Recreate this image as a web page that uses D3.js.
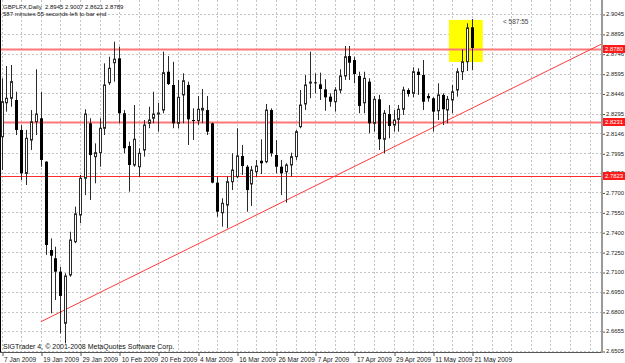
<!DOCTYPE html>
<html>
<head>
<meta charset="utf-8">
<script src="https://cdn.jsdelivr.net/npm/d3@7"></script>
<style>
    body { margin: 0; background: #fff; }
    #chart { width: 625px; height: 363px; }
    svg text { font-family: "Liberation Sans", Arial, sans-serif; }
</style>
</head>
<body>
<div id="chart"></div>
<script>
// GBPLFX daily bars, 7 Jan 2009 .. 21 May 2009 (index 0 .. 96)
const opens = [
    2.8120, 2.8376, 2.8410, 2.8397, 2.8171, 2.7844, 2.8095, 2.8233, 2.8259, 2.7932,
    2.7266, 2.7204, 2.7103, 2.6714, 2.7078, 2.7329, 2.7530, 2.7807, 2.8221, 2.7970,
    2.8000, 2.8184, 2.8527, 2.8678, 2.8711, 2.8297, 2.8050, 2.7907, 2.7894, 2.8020,
    2.8221, 2.8259, 2.8297, 2.8321, 2.8610, 2.8510, 2.8221, 2.8435, 2.8510, 2.8246,
    2.8241, 2.8321, 2.8321, 2.8221, 2.7774, 2.7547, 2.7605, 2.7781, 2.7819, 2.7975,
    2.7894, 2.7764, 2.7856, 2.7939, 2.7932, 2.8321, 2.7982, 2.7894, 2.7856, 2.7907,
    2.7970, 2.8196, 2.8367, 2.8530, 2.8530, 2.8515, 2.8477, 2.8422, 2.8384, 2.8472,
    2.8578, 2.8728, 2.8698, 2.8578, 2.8376, 2.8535, 2.8221, 2.8402, 2.8101, 2.8291,
    2.8208, 2.8251, 2.8327, 2.8472, 2.8447, 2.8610, 2.8585, 2.8427, 2.8410, 2.8316,
    2.8435, 2.8321, 2.8397, 2.8472, 2.8610, 2.8685, 2.8945
];
const highs = [
    2.8560, 2.8653, 2.8661, 2.8459, 2.8208, 2.8171, 2.8321, 2.8628, 2.8459, 2.7935,
    2.7354, 2.7291, 2.7140, 2.7091, 2.7404, 2.7593, 2.7832, 2.8327, 2.8259, 2.8070,
    2.8259, 2.8673, 2.8723, 2.8836, 2.8799, 2.8321, 2.8083, 2.8359, 2.8033, 2.8246,
    2.8346, 2.8459, 2.8376, 2.8761, 2.8728, 2.8685, 2.8548, 2.8598, 2.8535, 2.8334,
    2.8427, 2.8480, 2.8427, 2.8226, 2.7819, 2.7656, 2.7819, 2.7995, 2.8184, 2.8058,
    2.7907, 2.7899, 2.7945, 2.8101, 2.8367, 2.8334, 2.8095, 2.7945, 2.7920, 2.8000,
    2.8171, 2.8472, 2.8585, 2.8761, 2.8598, 2.8603, 2.8553, 2.8447, 2.8493, 2.8628,
    2.8804, 2.8804, 2.8723, 2.8610, 2.8610, 2.8560, 2.8427, 2.8435, 2.8321, 2.8359,
    2.8321, 2.8359, 2.8497, 2.8485, 2.8643, 2.8636, 2.8698, 2.8447, 2.8417, 2.8523,
    2.8447, 2.8427, 2.8510, 2.8636, 2.8779, 2.8975, 2.9007
];
const lows = [
    2.7869, 2.8309, 2.8346, 2.8133, 2.7794, 2.7756, 2.8020, 2.8133, 2.7894, 2.7229,
    2.6789, 2.6889, 2.6638, 2.6563, 2.7065, 2.7317, 2.7468, 2.7681, 2.7643, 2.7769,
    2.7894, 2.8133, 2.8510, 2.8535, 2.8221, 2.7995, 2.7706, 2.7894, 2.7819, 2.7970,
    2.8184, 2.8221, 2.8158, 2.8297, 2.8510, 2.8184, 2.8184, 2.8221, 2.8058, 2.8095,
    2.8208, 2.8221, 2.8133, 2.7769, 2.7517, 2.7442, 2.7430, 2.7718, 2.7807, 2.7832,
    2.7555, 2.7598, 2.7819, 2.7839, 2.7920, 2.7970, 2.7844, 2.7681, 2.7623, 2.7819,
    2.7945, 2.8184, 2.8321, 2.8410, 2.8447, 2.8397, 2.8316, 2.8346, 2.8309, 2.8447,
    2.8548, 2.8548, 2.8523, 2.8297, 2.8297, 2.8146, 2.8158, 2.8020, 2.7995, 2.8108,
    2.8158, 2.8158, 2.8284, 2.8422, 2.8417, 2.8435, 2.8321, 2.8384, 2.8158, 2.8246,
    2.8208, 2.8221, 2.8297, 2.8422, 2.8548, 2.8615, 2.8621
];
const closes = [
    2.8384, 2.8410, 2.8535, 2.8171, 2.7844, 2.8108, 2.8233, 2.8291, 2.7945, 2.7304,
    2.7223, 2.7103, 2.6920, 2.7070, 2.7342, 2.7538, 2.7807, 2.8291, 2.7982, 2.8000,
    2.8184, 2.8510, 2.8636, 2.8704, 2.8297, 2.8033, 2.7907, 2.8101, 2.7995, 2.8208,
    2.8246, 2.8291, 2.8299, 2.8603, 2.8517, 2.8221, 2.8417, 2.8542, 2.8251, 2.8244,
    2.8327, 2.8334, 2.8158, 2.7774, 2.7555, 2.7618, 2.7781, 2.7869, 2.7975, 2.7899,
    2.7718, 2.7869, 2.7899, 2.7920, 2.8321, 2.7995, 2.7894, 2.7844, 2.7907, 2.7970,
    2.8158, 2.8359, 2.8510, 2.8532, 2.8528, 2.8480, 2.8417, 2.8384, 2.8472, 2.8578,
    2.8723, 2.8678, 2.8593, 2.8352, 2.8560, 2.8221, 2.8402, 2.8101, 2.8297, 2.8201,
    2.8246, 2.8327, 2.8472, 2.8442, 2.8610, 2.8585, 2.8384, 2.8410, 2.8309, 2.8435,
    2.8327, 2.8402, 2.8459, 2.8610, 2.8685, 2.8940, 2.8789
];

const dateLabels = ["7 Jan 2009", "19 Jan 2009", "29 Jan 2009", "10 Feb 2009", "20 Feb 2009",
    "4 Mar 2009", "16 Mar 2009", "26 Mar 2009", "7 Apr 2009", "17 Apr 2009",
    "29 Apr 2009", "11 May 2009", "21 May 2009"];
const dateLabelBars = [0, 8, 16, 24, 32, 40, 48, 56, 64, 72, 80, 88, 96];

const priceTicks = [2.9045, 2.8895, 2.8746, 2.8595, 2.8446, 2.8295, 2.8146, 2.7995, 2.7850,
    2.7700, 2.7550, 2.7400, 2.7250, 2.7100, 2.6950, 2.6800, 2.6655, 2.6505];

// drawn objects on the chart
const levels = [2.8780, 2.8231, 2.7823];
const trendBars = [8, 96];
const trendPrices = [2.6725, 2.8335];
const boxBars = [91.3, 98.2];
const boxPrices = [2.9000, 2.8683];

const symbolName = "GBPLFX,Daily";
const timeLeft = "587 minutes 55 seconds left to bar end";
const countdown = "< 587:55";
const copyright = "SIGTrader 4, \u00a9 2001-2008 MetaQuotes Software Corp.";


function displayChart() {
    new CandleChart("chart");
}


class CandleChart {
    constructor(chartId) {

        let container = document.getElementById(chartId);

        let WIDTH = 625,
            HEIGHT = 363,
            RIGHT = 601,
            BOTTOM = 352;

        let last = closes.length - 1;

        let x = d3.scaleLinear()
            .domain([0, last])
            .range([1.5, 472]);

        let y = d3.scaleLinear()
            .domain([2.6505, 2.9045])
            .range([351, 14]);

        let px = v => Math.round(v) + 0.5;

        let svg = d3.select(container)
            .append('svg')
            .attr('width', WIDTH)
            .attr('height', HEIGHT);

        svg.append('rect')
            .attr('width', WIDTH)
            .attr('height', HEIGHT)
            .attr('fill', '#fff');

        svg.append('clipPath')
            .attr('id', 'plot-clip')
            .append('rect')
            .attr('x', 0)
            .attr('y', 0)
            .attr('width', RIGHT)
            .attr('height', BOTTOM);

        let plot = svg.append('g').attr('clip-path', 'url(#plot-clip)');

        // Grid

        let gridBars = d3.range(0, x.invert(RIGHT), 4);

        plot.selectAll('.vgrid')
            .data(gridBars)
            .enter()
            .append('line')
            .attr('x1', d => px(x(d)))
            .attr('x2', d => px(x(d)))
            .attr('y1', 0)
            .attr('y2', BOTTOM)
            .attr('stroke', '#c4c4c4')
            .attr('stroke-dasharray', '2,2');

        plot.selectAll('.hgrid')
            .data(priceTicks)
            .enter()
            .append('line')
            .attr('x1', 0)
            .attr('x2', RIGHT)
            .attr('y1', d => px(y(d)))
            .attr('y2', d => px(y(d)))
            .attr('stroke', '#c4c4c4')
            .attr('stroke-dasharray', '2,2');

        // Yellow highlight box

        plot.append('rect')
            .attr('x', x(boxBars[0]))
            .attr('y', y(boxPrices[0]))
            .attr('width', x(boxBars[1]) - x(boxBars[0]))
            .attr('height', y(boxPrices[1]) - y(boxPrices[0]))
            .attr('fill', '#ffff00');

        // Horizontal levels

        plot.selectAll('.level')
            .data(levels)
            .enter()
            .append('line')
            .attr('x1', 0)
            .attr('x2', RIGHT)
            .attr('y1', d => px(y(d)))
            .attr('y2', d => px(y(d)))
            .attr('stroke', (d, i) => i < 2 ? '#ff7878' : '#ff2a2a')
            .attr('stroke-width', (d, i) => i < 2 ? 2 : 1.2);

        // Trend line, extended as a ray to the right edge

        let slope = (trendPrices[1] - trendPrices[0]) / (trendBars[1] - trendBars[0]);
        let endBar = x.invert(RIGHT);
        plot.append('line')
            .attr('x1', x(trendBars[0]))
            .attr('y1', y(trendPrices[0]))
            .attr('x2', x(endBar))
            .attr('y2', y(trendPrices[0] + slope * (endBar - trendBars[0])))
            .attr('stroke', '#ff3c3c')
            .attr('stroke-width', 1);

        // Draw the candles

        let bars = closes.map((c, i) => ({
            i: i, o: opens[i], h: highs[i], l: lows[i], c: c
        }));

        plot.selectAll('.wick')
            .data(bars)
            .enter()
            .append('line')
            .attr('x1', d => px(x(d.i)))
            .attr('x2', d => px(x(d.i)))
            .attr('y1', d => y(d.h))
            .attr('y2', d => y(d.l))
            .attr('stroke', '#2a2a2a');

        plot.selectAll('.body')
            .data(bars)
            .enter()
            .append('rect')
            .attr('x', d => d.c >= d.o ? px(x(d.i)) - 1 : px(x(d.i)) - 1.5)
            .attr('width', d => d.c >= d.o ? 2 : 3)
            .attr('y', d => y(Math.max(d.o, d.c)))
            .attr('height', d => Math.max(1, Math.abs(y(d.o) - y(d.c))))
            .attr('fill', d => d.c >= d.o ? '#fff' : '#000')
            .attr('stroke', d => d.c >= d.o ? '#2a2a2a' : 'none');

        // Frame

        svg.append('line')
            .attr('x1', 0.5).attr('x2', 0.5)
            .attr('y1', 0).attr('y2', BOTTOM)
            .attr('stroke', '#000');

        svg.append('line')
            .attr('x1', 0).attr('x2', RIGHT)
            .attr('y1', BOTTOM + 0.5).attr('y2', BOTTOM + 0.5)
            .attr('stroke', '#555');

        svg.append('line')
            .attr('x1', RIGHT + 1).attr('x2', RIGHT + 1)
            .attr('y1', 0).attr('y2', BOTTOM + 1)
            .attr('stroke', '#9a9a9a')
            .attr('stroke-width', 2);

        // Price axis

        let yAxis = svg.append('g')
            .attr('transform', `translate(${RIGHT + 2},0)`)
            .call(d3.axisRight(y)
                .tickValues(priceTicks)
                .tickSize(2)
                .tickPadding(1)
                .tickFormat(d3.format('.4f')));

        yAxis.select('.domain').remove();
        yAxis.selectAll('line').attr('stroke', '#555').attr('transform', 'translate(0,0.5)');
        yAxis.selectAll('text')
            .attr('font-size', '5.9px')
            .attr('font-family', '"Liberation Sans", Arial, sans-serif')
            .attr('fill', '#222');

        // Level labels on the price axis

        let levelTags = svg.selectAll('.level-tag')
            .data(levels)
            .enter()
            .append('g')
            .attr('transform', d => `translate(${RIGHT + 2},${Math.round(y(d))})`);

        levelTags.append('rect')
            .attr('x', 0)
            .attr('y', -4)
            .attr('width', 23)
            .attr('height', 8)
            .attr('fill', '#ff1a1a');

        levelTags.append('text')
            .attr('x', 2)
            .attr('y', 2.3)
            .attr('font-size', '5.9px')
            .attr('fill', '#fff')
            .text(d => d3.format('.4f')(d));

        // Date axis

        let xAxis = svg.append('g')
            .attr('transform', `translate(0,${BOTTOM})`)
            .call(d3.axisBottom(x)
                .tickValues(dateLabelBars)
                .tickSize(4)
                .tickPadding(1)
                .tickFormat((d, i) => dateLabels[i]));

        xAxis.select('.domain').remove();
        xAxis.selectAll('.tick line')
            .attr('stroke', '#555')
            .attr('transform', d => `translate(${px(x(d)) - x(d)},0)`);
        xAxis.selectAll('.tick text')
            .attr('text-anchor', 'start')
            .attr('x', 2)
            .attr('dy', '0.71em')
            .attr('font-size', '6.5px')
            .attr('font-family', '"Liberation Sans", Arial, sans-serif')
            .attr('fill', '#222');

        // Texts

        let header = `${symbolName}  ${opens[last].toFixed(4)} ${highs[last].toFixed(4)} ` +
            `${lows[last].toFixed(4)} ${closes[last].toFixed(4)}`;

        svg.append('text')
            .attr('x', 3)
            .attr('y', 8.5)
            .attr('font-size', '6px')
            .attr('fill', '#111')
            .attr('xml:space', 'preserve')
            .style('white-space', 'pre')
            .text(header);

        svg.append('text')
            .attr('x', 3)
            .attr('y', 15.5)
            .attr('font-size', '6px')
            .attr('fill', '#111')
            .text(timeLeft);

        svg.append('text')
            .attr('x', 503)
            .attr('y', 24)
            .attr('font-size', '6.5px')
            .attr('fill', '#444')
            .text(countdown);

        svg.append('text')
            .attr('x', 3)
            .attr('y', 349)
            .attr('font-size', '7px')
            .attr('fill', '#111')
            .text(copyright);
    }
}

displayChart();
</script>
</body>
</html>
